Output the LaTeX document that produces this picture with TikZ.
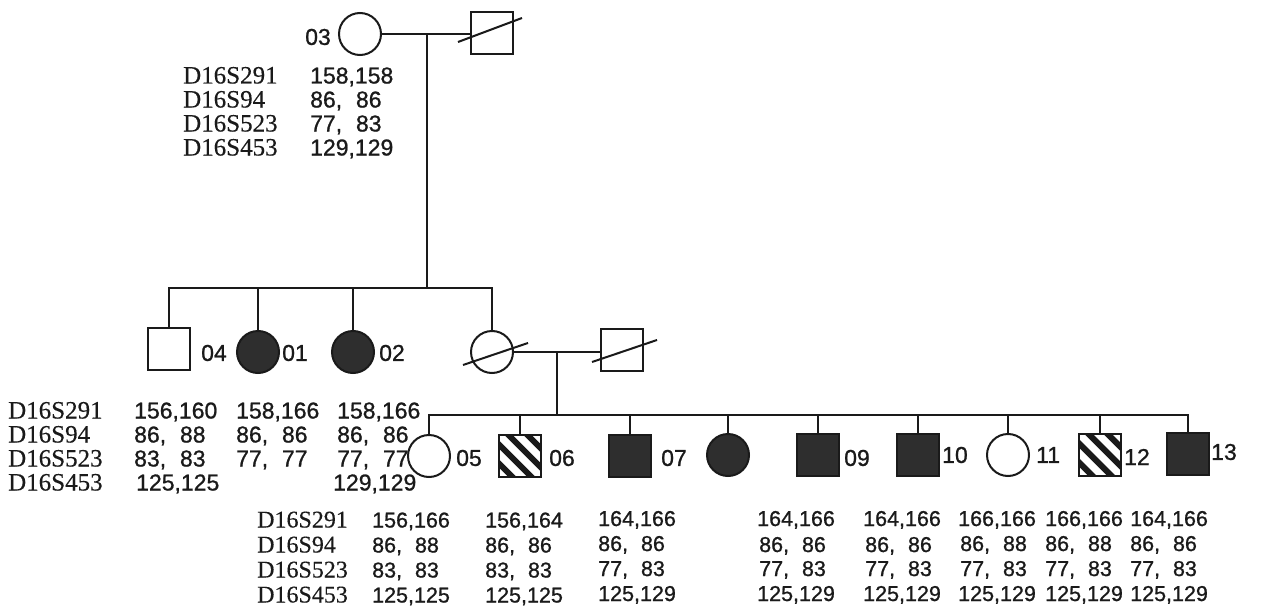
\documentclass[tikz,border=0pt]{standalone}
\usepackage{fontspec}
\setmainfont{Liberation Serif}
\newfontfamily\mkfont{Liberation Serif}[FakeBold=0.3]
\newfontfamily\numfont{Liberation Sans}[FakeBold=0.9]
\usetikzlibrary{calc}
\definecolor{ink}{HTML}{1A1A1A}
\definecolor{shade}{HTML}{2E2E2E}
\newcommand\agap{\hspace{0.6em}}
\begin{document}
\begin{tikzpicture}[x=1pt,y=-1pt,
  ln/.style={line width=2pt, draw=ink},
  person/.style={draw=ink, line width=2pt, minimum size=42pt, inner sep=0pt},
  male/.style={person, rectangle},
  female/.style={person, circle},
  aff/.style={fill=shade},
  hatch/.style={path picture={\foreach \c in {-28.5,-9.5,9.5,28.5}{\draw[line width=6pt,ink] ($(path picture bounding box.center)+(\c,0)+(-40,-40)$) -- ++(80,80);}}},
  mk/.style={anchor=base west, inner sep=0pt, font=\mkfont\fontsize{25}{30}\selectfont, text=ink},
  mks/.style={mk, font=\mkfont\fontsize{24}{29}\selectfont},
  al/.style={anchor=base west, inner sep=0pt, font=\numfont\fontsize{23}{28}\selectfont, text=ink},
  als/.style={al, font=\numfont\fontsize{21.5}{26}\selectfont},
  idw/.style={anchor=west, inner sep=0pt, font=\numfont\fontsize{23}{28}\selectfont, text=ink},
  ide/.style={anchor=east, inner sep=0pt, font=\numfont\fontsize{23}{28}\selectfont, text=ink},
]
\useasboundingbox (0,0) rectangle (1277,610);
\fill[white] (0,0) rectangle (1277,610);

% ---------- Generation I
\node[female] (gf) at (360,34) {};
\node[male] (gm) at (492,33) {};
\node[ide] (lgf) at (331,37) {03};
\draw[ln] ($(gm)+(-34,9)$) -- ($(gm)+(30,-15)$);
\coordinate (m1) at (427,34);
\coordinate (s1) at (427,288);
\draw[ln] (gf.east) -- (gf.east -| gm.west);
\draw[ln] (m1) -- (s1);

\node[mk] (tm1) at (183,83.5) {D16S291};
\node[mk] (tm2) at (183,107.5) {D16S94};
\node[mk] (tm3) at (183,131.5) {D16S523};
\node[mk] (tm4) at (183,155.5) {D16S453};
\node[al] (ta1) at (310,83.5) {158,158};
\node[al] (ta2) at (310,107.5) {86,\agap86};
\node[al] (ta3) at (310,131.5) {77,\agap83};
\node[al] (ta4) at (310,155.5) {129,129};

% ---------- Generation II
\node[male] (n04) at (169,349) {};
\node[female,aff] (n01) at (258,352) {};
\node[female,aff] (n02) at (353,352) {};
\node[female] (mo) at (492,352) {};
\node[male] (fa) at (622,350) {};
\node[idw] (l04) at (201,353) {04};
\node[idw] (l01) at (282,353) {01};
\node[idw] (l02) at (379,353) {02};
\draw[ln] ($(mo)+(-29,13)$) -- ($(mo)+(36,-9)$);
\draw[ln] ($(fa)+(-30,12)$) -- ($(fa)+(35,-10)$);

\draw[ln] (n04.north) |- (s1) -| (mo.north);
\draw[ln] (n01.north) -- (n01.north |- s1);
\draw[ln] (n02.north) -- (n02.north |- s1);

\coordinate (m2) at (557,352);
\coordinate (s2) at (557,415);
\draw[ln] (mo.east) -- (mo.east -| fa.west);
\draw[ln] (m2) -- (s2);

\node[mk] (bm1) at (8,418.5) {D16S291};
\node[mk] (bm2) at (8,442.5) {D16S94};
\node[mk] (bm3) at (8,466.5) {D16S523};
\node[mk] (bm4) at (8,490.5) {D16S453};
\node[al] (b11) at (134,418.5) {156,160};
\node[al] (b12) at (134,442.5) {86,\agap88};
\node[al] (b13) at (134,466.5) {83,\agap83};
\node[al] (b14) at (136,490.5) {125,125};
\node[al] (b21) at (236,418.5) {158,166};
\node[al] (b22) at (236,442.5) {86,\agap86};
\node[al] (b23) at (236,466.5) {77,\agap77};
\node[al] (b31) at (337,418.5) {158,166};
\node[al] (b32) at (337,442.5) {86,\agap86};
\node[al] (b33) at (337,466.5) {77,\agap77};
\node[al] (b34) at (333,490.5) {129,129};

% ---------- Generation III
\node[female] (c05) at (429,456) {};
\node[male,hatch] (c06) at (520,456) {};
\node[male,aff] (c07) at (630,456) {};
\node[female,aff] (c08) at (728,455) {};
\node[male,aff] (c09) at (818,455) {};
\node[male,aff] (c10) at (918,455) {};
\node[female] (c11) at (1008,455) {};
\node[male,hatch] (c12) at (1100,455) {};
\node[male,aff] (c13) at (1188,454) {};
\node[idw] (l05) at (456,458) {05};
\node[idw] (l06) at (549,458) {06};
\node[idw] (l07) at (661,458) {07};
\node[idw] (l09) at (844,458) {09};
\node[idw] (l10) at (942,455) {10};
\node[idw] (l11) at (1036,455) {11};
\node[idw] (l12) at (1124,457) {12};
\node[idw] (l13) at (1211,452) {13};

\draw[ln] (c05.north) |- (s2) -| (c13.north);
\foreach \k in {c06,c07,c08,c09,c10,c11,c12}{
  \draw[ln] (\k.north) -- (\k.north |- s2);
}

\node[mks] (cm1) at (257,527.5) {D16S291};
\node[mks] (cm2) at (257,552.5) {D16S94};
\node[mks] (cm3) at (257,577.5) {D16S523};
\node[mks] (cm4) at (257,602.5) {D16S453};

\node[als] (a51) at (372,527.5) {156,166};
\node[als] (a52) at (372,552.5) {86,\agap88};
\node[als] (a53) at (372,577.5) {83,\agap83};
\node[als] (a54) at (372,602.5) {125,125};

\node[als] (a61) at (485,527.5) {156,164};
\node[als] (a62) at (485,552.5) {86,\agap86};
\node[als] (a63) at (485,577.5) {83,\agap83};
\node[als] (a64) at (485,602.5) {125,125};

\node[als] (a71) at (598,526) {164,166};
\node[als] (a72) at (598,551) {86,\agap86};
\node[als] (a73) at (598,576) {77,\agap83};
\node[als] (a74) at (598,601) {125,129};

\node[als] (a91) at (757,526) {164,166};
\node[als] (a92) at (759,552) {86,\agap86};
\node[als] (a93) at (759,576) {77,\agap83};
\node[als] (a94) at (757,601) {125,129};

\node[als] (a101) at (863,526) {164,166};
\node[als] (a102) at (865,552) {86,\agap86};
\node[als] (a103) at (865,576) {77,\agap83};
\node[als] (a104) at (863,601) {125,129};

\node[als] (a111) at (958,526) {166,166};
\node[als] (a112) at (960,551) {86,\agap88};
\node[als] (a113) at (960,576) {77,\agap83};
\node[als] (a114) at (958,601) {125,129};

\node[als] (a121) at (1045,526) {166,166};
\node[als] (a122) at (1045,551) {86,\agap88};
\node[als] (a123) at (1045,576) {77,\agap83};
\node[als] (a124) at (1045,601) {125,129};

\node[als] (a131) at (1130,526) {164,166};
\node[als] (a132) at (1130,551) {86,\agap86};
\node[als] (a133) at (1130,576) {77,\agap83};
\node[als] (a134) at (1130,601) {125,129};
\end{tikzpicture}
\end{document}
